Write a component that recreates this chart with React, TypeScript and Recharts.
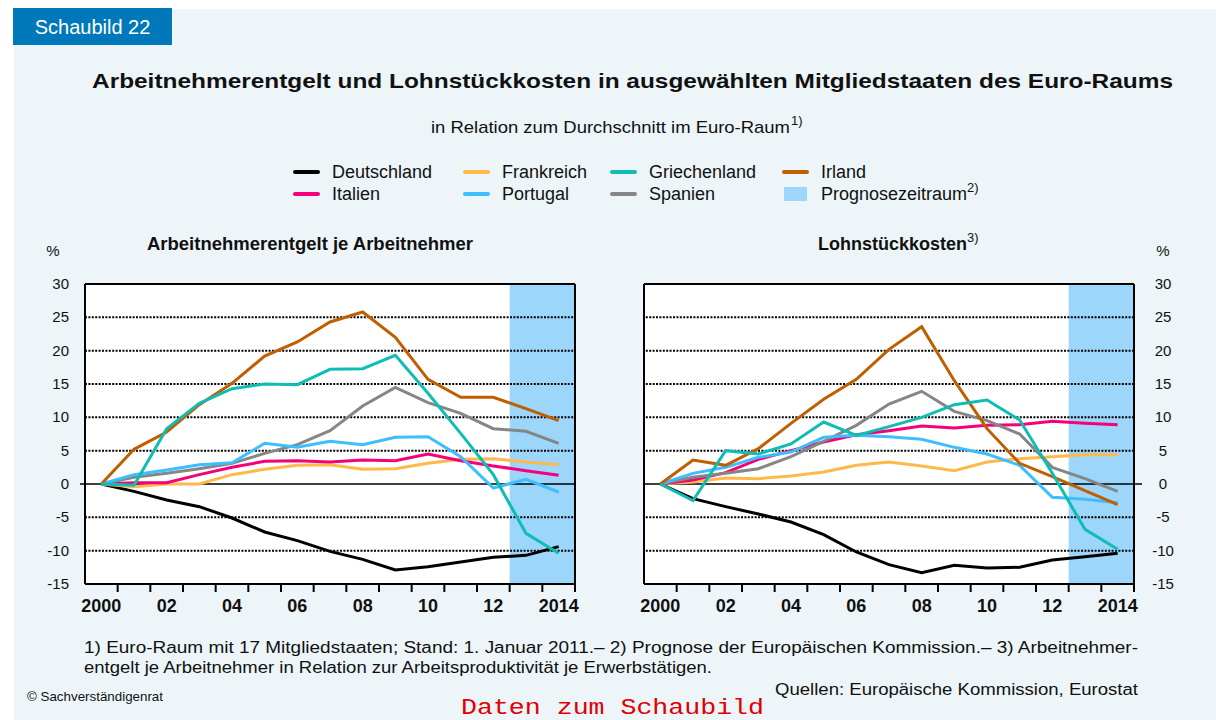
import React from "react";
import { LineChart, Line, XAxis, YAxis, CartesianGrid, ReferenceLine, ReferenceArea } from "recharts";

const years = [2000, 2001, 2002, 2003, 2004, 2005, 2006, 2007, 2008, 2009, 2010, 2011, 2012, 2013, 2014];
const yTicks = [-15, -10, -5, 0, 5, 10, 15, 20, 25, 30];
const gridValues = [-10, -5, 5, 10, 15, 20, 25];

// Arbeitnehmerentgelt je Arbeitnehmer
const deLeft = [0, -1.1, -2.4, -3.4, -5.1, -7.2, -8.5, -10.1, -11.3, -12.9, -12.4, -11.7, -11.0, -10.7, -9.4];
const frLeft = [0, -0.4, 0, 0, 1.4, 2.2, 2.8, 2.9, 2.2, 2.3, 3.1, 3.7, 3.8, 3.3, 2.9];
const grLeft = [0, -0.2, 8.3, 12.1, 14.3, 15.0, 14.9, 17.2, 17.3, 19.3, 13.6, 7.6, 1.4, -7.4, -10.4];
const ieLeft = [0, 5.2, 7.8, 11.9, 15.1, 19.2, 21.3, 24.3, 25.8, 22.0, 15.7, 13.0, 13.0, 11.3, 9.5];
const itLeft = [0, 0.2, 0.2, 1.4, 2.5, 3.4, 3.5, 3.3, 3.6, 3.5, 4.5, 3.5, 2.7, 2.0, 1.3];
const ptLeft = [0, 1.4, 2.1, 2.9, 3.2, 6.1, 5.5, 6.4, 5.9, 7.0, 7.1, 4.1, -0.6, 0.7, -1.2];
const esLeft = [0, 1.0, 1.6, 2.3, 3.1, 4.6, 5.9, 8.0, 11.7, 14.5, 12.2, 10.6, 8.3, 7.9, 6.1];

// Lohnstückkosten
const deRight = [0, -2.2, -3.4, -4.5, -5.7, -7.6, -10.2, -12.1, -13.3, -12.2, -12.6, -12.5, -11.4, -10.9, -10.4];
const frRight = [0, 0.3, 0.9, 0.8, 1.2, 1.8, 2.8, 3.3, 2.7, 2.0, 3.3, 3.8, 4.1, 4.4, 4.4];
const grRight = [0, -2.5, 5.0, 4.5, 6.0, 9.3, 7.3, 8.6, 10.0, 11.9, 12.6, 9.6, 1.6, -6.8, -9.8];
const ieRight = [0, 3.6, 2.8, 5.3, 9.1, 12.7, 15.7, 20.2, 23.6, 15.5, 8.3, 3.1, 1.1, -1.0, -3.1];
const itRight = [0, 0.6, 1.7, 3.7, 5.0, 6.3, 7.4, 8.0, 8.7, 8.4, 8.8, 8.9, 9.4, 9.1, 8.9];
const ptRight = [0, 1.6, 2.5, 4.0, 4.8, 7.0, 7.3, 7.1, 6.7, 5.5, 4.5, 2.8, -2.0, -2.3, -2.8];
const esRight = [0, 1.0, 1.6, 2.3, 4.1, 6.4, 8.8, 12.0, 13.9, 10.9, 9.5, 7.5, 2.5, 0.8, -1.1];

const series = [
  { key: "de", name: "Deutschland", color: "#000000" },
  { key: "fr", name: "Frankreich", color: "#FDB94A" },
  { key: "it", name: "Italien", color: "#F5007A" },
  { key: "es", name: "Spanien", color: "#868686" },
  { key: "pt", name: "Portugal", color: "#3DBEFF" },
  { key: "ie", name: "Irland", color: "#BF5F00" },
  { key: "gr", name: "Griechenland", color: "#10BDB5" },
];
const colorOf: Record<string, string> = {};
series.forEach((s) => (colorOf[s.name] = s.color));

const legendRows = [
  ["Deutschland", "Frankreich", "Griechenland", "Irland"],
  ["Italien", "Portugal", "Spanien", "Prognosezeitraum"],
];
const legendX = [295, 465, 612, 784];

const SHADE = "#9CD6FB";
const FONT = "'Liberation Sans', Arial, sans-serif";

const build = (de: number[], fr: number[], gr: number[], ie: number[], it: number[], pt: number[], es: number[]) =>
  years.map((y, i) => ({ year: y, de: de[i], fr: fr[i], gr: gr[i], ie: ie[i], it: it[i], pt: pt[i], es: es[i] }));

const leftData = build(deLeft, frLeft, grLeft, ieLeft, itLeft, ptLeft, esLeft);
const rightData = build(deRight, frRight, grRight, ieRight, itRight, ptRight, esRight);

const PLOT_TOP = 14;
const PLOT_H = 300;
const BAND = 490 / 15;

const makeXTick = () => (props: any) => {
  const { x, payload } = props;
  const v = payload.value as number;
  const axisY = PLOT_TOP + PLOT_H;
  const label = v === 2000 || v === 2014 ? String(v) : String(v).slice(2);
  return (
    <g>
      <line x1={x + BAND / 2} x2={x + BAND / 2} y1={axisY} y2={axisY + 8} stroke="#000" strokeWidth={2} />
      {v % 2 === 0 && (
        <text x={x} y={342} textAnchor="middle" fontFamily={FONT} fontWeight="bold" fontSize={18} fill="#111">
          {label}
        </text>
      )}
    </g>
  );
};

const makeYTick = (textX: number, anchor: "end" | "middle", zx1: number, zx2: number) => (props: any) => {
  const { y, payload } = props;
  const v = payload.value as number;
  return (
    <g>
      {v === 0 && <line x1={zx1} x2={zx2} y1={y} y2={y} stroke="#000" strokeWidth={1.5} />}
      <text x={textX} y={y + 5} textAnchor={anchor} fontFamily={FONT} fontSize={15} fill="#111">
        {v}
      </text>
    </g>
  );
};

function Panel({ data, side }: { data: any[]; side: "left" | "right" }) {
  const isLeft = side === "left";
  const width = isLeft ? 600 : 620;
  const margin = isLeft ? { top: PLOT_TOP, right: 25, left: 0, bottom: 0 } : { top: PLOT_TOP, right: 6, left: 64, bottom: 0 };
  const yTick = isLeft ? makeYTick(69, "end", 80, 85) : makeYTick(583, "middle", 554, 562);
  return (
    <LineChart width={width} height={360} data={data} margin={margin}>
      <CartesianGrid horizontal={false} vertical={false} fill="#ffffff" />
      <XAxis
        dataKey="year"
        type="number"
        domain={[1999.5, 2014.5]}
        ticks={years}
        interval={0}
        height={46}
        tickLine={false}
        axisLine={{ stroke: "#000", strokeWidth: 2 }}
        tick={makeXTick()}
      />
      <YAxis
        orientation={isLeft ? "left" : "right"}
        width={isLeft ? 85 : 60}
        type="number"
        domain={[-15, 30]}
        ticks={yTicks}
        interval={0}
        tickLine={false}
        axisLine={{ stroke: "#000", strokeWidth: 2 }}
        tick={yTick}
      />
      <ReferenceArea x1={2012.5} x2={2014.5} y1={-15} y2={30} fill={SHADE} fillOpacity={1} stroke="none" />
      {gridValues.map((g) => (
        <ReferenceLine key={g} y={g} stroke="#000" strokeWidth={2} strokeDasharray="2 1.4" />
      ))}
      <ReferenceLine y={0} stroke="#000" strokeWidth={1.5} />
      <ReferenceLine y={30} stroke="#000" strokeWidth={2} />
      <ReferenceLine x={isLeft ? 2014.5 : 1999.5} stroke="#000" strokeWidth={2} />
      {series.map((s) => (
        <Line
          key={s.key}
          dataKey={s.key}
          name={s.name}
          type="linear"
          stroke={s.color}
          strokeWidth={3}
          dot={false}
          activeDot={false}
          isAnimationActive={false}
        />
      ))}
    </LineChart>
  );
}

export default function App() {
  return (
    <div style={{ position: "absolute", left: 0, top: 0, width: 1216, height: 720, background: "#fff", overflow: "hidden" }}>
      <svg width={1216} height={720} style={{ position: "absolute", left: 0, top: 0 }} fontFamily={FONT}>
        <rect x={14} y={9} width={1202} height={711} fill="#EDF5F9" />
        <rect x={13} y={8} width={159} height={37} fill="#0078B9" />
        <text x={92.5} y={34} textAnchor="middle" fontSize={20} fill="#fff">Schaubild 22</text>
        <text x={92} y={88} fontSize={21} fontWeight="bold" fill="#111" textLength={1081} lengthAdjust="spacingAndGlyphs">
          Arbeitnehmerentgelt und Lohnstückkosten in ausgewählten Mitgliedstaaten des Euro-Raums
        </text>
        <text x={431} y={133} fontSize={17} fill="#111" textLength={359} lengthAdjust="spacingAndGlyphs">
          in Relation zum Durchschnitt im Euro-Raum
        </text>
        <text x={791} y={125} fontSize={13} fill="#111">1)</text>
        {legendRows.map((row, ri) =>
          row.map((name, ci) => {
            const cy = ri === 0 ? 172 : 194;
            const lx = legendX[ci];
            return (
              <g key={name}>
                {name === "Prognosezeitraum" ? (
                  <rect x={lx} y={cy - 7} width={23} height={14} fill={SHADE} />
                ) : (
                  <line x1={lx} x2={lx + 23} y1={cy} y2={cy} stroke={colorOf[name]} strokeWidth={4} strokeLinecap="round" />
                )}
                <text x={lx + 37} y={cy + 6} fontSize={18} fill="#111">
                  {name}
                  {name === "Prognosezeitraum" && <tspan fontSize={13} dy={-8}>2)</tspan>}
                </text>
              </g>
            );
          })
        )}
        <text x={147} y={250} fontSize={18} fontWeight="bold" fill="#111" textLength={326} lengthAdjust="spacingAndGlyphs">Arbeitnehmerentgelt je Arbeitnehmer</text>
        <text x={818} y={250} fontSize={18} fontWeight="bold" fill="#111">
          Lohnstückkosten
          <tspan fontSize={13} fontWeight="normal" dy={-8}>3)</tspan>
        </text>
        <text x={53} y={256} textAnchor="middle" fontSize={15} fill="#111">%</text>
        <text x={1163} y={256} textAnchor="middle" fontSize={15} fill="#111">%</text>
        <text x={84} y={653} fontSize={16} fill="#111" textLength={1054} lengthAdjust="spacingAndGlyphs">
          1) Euro-Raum mit 17 Mitgliedstaaten; Stand: 1. Januar 2011.– 2) Prognose der Europäischen Kommission.– 3) Arbeitnehmer-
        </text>
        <text x={84} y={673} fontSize={16} fill="#111" textLength={628} lengthAdjust="spacingAndGlyphs">
          entgelt je Arbeitnehmer in Relation zur Arbeitsproduktivität je Erwerbstätigen.
        </text>
        <text x={775} y={695} fontSize={16} fill="#111" textLength={363} lengthAdjust="spacingAndGlyphs">Quellen: Europäische Kommission, Eurostat</text>
        <text x={27} y={701} fontSize={13.5} fill="#111" textLength={136} lengthAdjust="spacingAndGlyphs">© Sachverständigenrat</text>
        <text x={461} y={714} fontSize={22} fill="#E00000" fontFamily="'Liberation Mono', 'Courier New', monospace" textLength={303} lengthAdjust="spacingAndGlyphs">
          Daten zum Schaubild
        </text>
      </svg>
      <div style={{ position: "absolute", left: 0, top: 270 }}>
        <Panel data={leftData} side="left" />
      </div>
      <div style={{ position: "absolute", left: 580, top: 270 }}>
        <Panel data={rightData} side="right" />
      </div>
    </div>
  );
}
